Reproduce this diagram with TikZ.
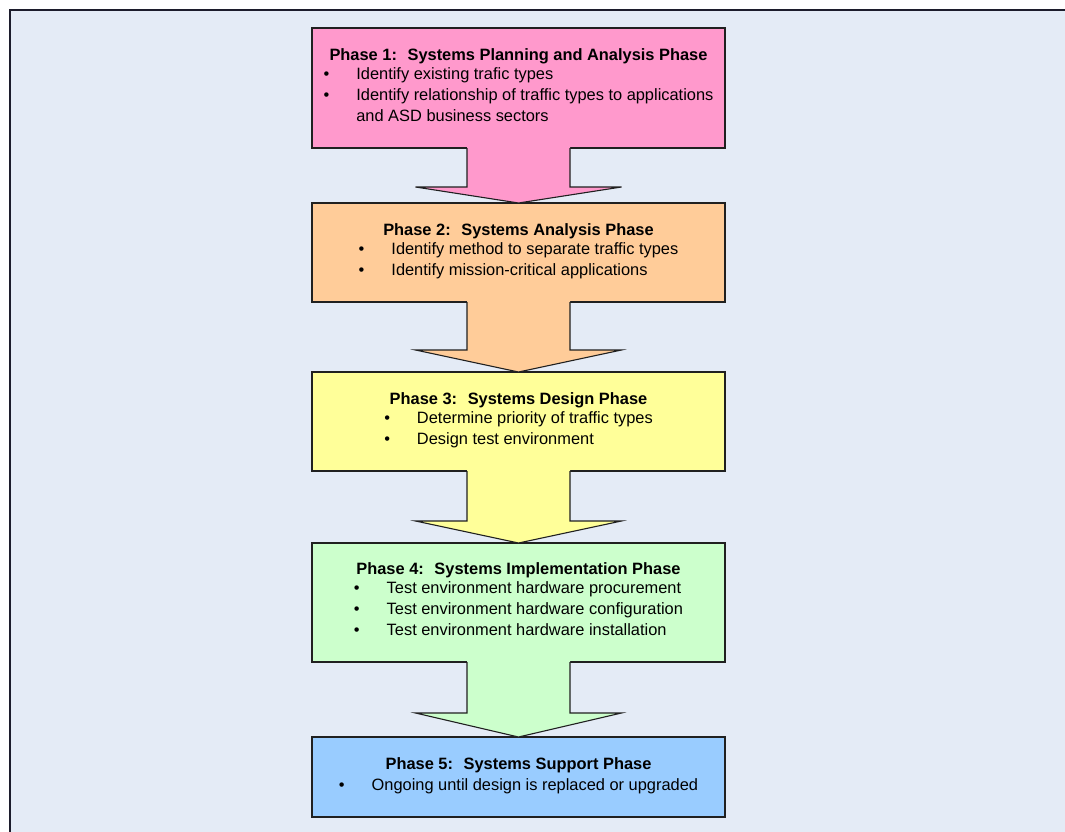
\documentclass[tikz,border=0pt]{standalone}
\usepackage{fontspec}
\setmainfont{Liberation Sans}
\usetikzlibrary{positioning}

\definecolor{bgblue}{HTML}{E4EBF6}
\definecolor{framedark}{HTML}{1C1C2C}
\definecolor{boxline}{HTML}{202020}
\definecolor{phasepink}{HTML}{FF99CC}
\definecolor{phasepeach}{HTML}{FFCC99}
\definecolor{phaseyellow}{HTML}{FFFF99}
\definecolor{phasegreen}{HTML}{CCFFCC}
\definecolor{phaseblue}{HTML}{99CCFF}

\tikzset{
  phasebox/.style={draw=boxline, line width=1.3pt, minimum width=413pt,
    inner sep=0pt, outer sep=0pt, align=center,
    font=\fontsize{16.4}{21}\selectfont},
  arrowline/.style={draw=boxline, line width=1.1pt, line join=miter}
}

\newcommand{\itemrows}[1]{\begin{tabular}{@{}l@{\hspace{27pt}}l@{}}#1\end{tabular}}

\begin{document}
\begin{tikzpicture}[x=1pt,y=-1pt]
\useasboundingbox (0,0) rectangle (1065,832);
% background and frame
\fill[bgblue] (10,10) rectangle (1065,832);
\draw[framedark, line width=1.8pt] (1065,10) -- (10,10) -- (10,832);

% phases
\node[phasebox, fill=phasepink, minimum height=120pt] (p1) at (518.5,88)
  {\textbf{Phase 1:~ Systems Planning and Analysis Phase}\\
   \itemrows{\textbullet & Identify existing trafic types\\
             \textbullet & Identify relationship of traffic types to applications\\
                         & and ASD business sectors}};
\node[phasebox, fill=phasepeach, minimum height=99pt, below=55pt of p1] (p2)
  {\textbf{Phase 2:~ Systems Analysis Phase}\\
   \itemrows{\textbullet & Identify method to separate traffic types\\
             \textbullet & Identify mission-critical applications}};
\node[phasebox, fill=phaseyellow, minimum height=99pt, below=70pt of p2] (p3)
  {\textbf{Phase 3:~ Systems Design Phase}\\
   \itemrows{\textbullet & Determine priority of traffic types\\
             \textbullet & Design test environment}};
\node[phasebox, fill=phasegreen, minimum height=119pt, below=72pt of p3] (p4)
  {\textbf{Phase 4:~ Systems Implementation Phase}\\
   \itemrows{\textbullet & Test environment hardware procurement\\
             \textbullet & Test environment hardware configuration\\
             \textbullet & Test environment hardware installation}};
\node[phasebox, fill=phaseblue, minimum height=80pt, below=75pt of p4] (p5)
  {\textbf{Phase 5:~ Systems Support Phase}\\
   \itemrows{\textbullet & Ongoing until design is replaced or upgraded}};

% block arrows between phases
\foreach \a/\b/\c/\h in {p1/p2/phasepink/16, p2/p3/phasepeach/22,
                         p3/p4/phaseyellow/22, p4/p5/phasegreen/24} {
  \fill[\c] ([xshift=-51.5pt,yshift=1.5pt]\a.south)
    -- ([xshift=-51.5pt,yshift=\h pt]\b.north)
    -- ([xshift=-103pt,yshift=\h pt]\b.north)
    -- (\b.north)
    -- ([xshift=103pt,yshift=\h pt]\b.north)
    -- ([xshift=51.5pt,yshift=\h pt]\b.north)
    -- ([xshift=51.5pt,yshift=1.5pt]\a.south) -- cycle;
  \draw[arrowline] ([xshift=-51.5pt]\a.south)
    -- ([xshift=-51.5pt,yshift=\h pt]\b.north)
    -- ([xshift=-103pt,yshift=\h pt]\b.north)
    -- (\b.north)
    -- ([xshift=103pt,yshift=\h pt]\b.north)
    -- ([xshift=51.5pt,yshift=\h pt]\b.north)
    -- ([xshift=51.5pt]\a.south);
}
\end{tikzpicture}
\end{document}
